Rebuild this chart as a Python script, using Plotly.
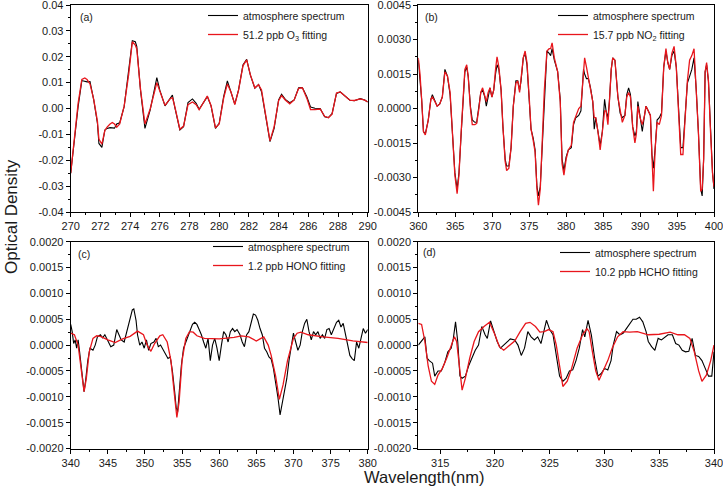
import plotly.graph_objects as go

# ---------------- Panel (a): O3 ----------------
wl_a = [270.0, 270.3, 270.5, 270.75, 270.95, 271.1, 271.3, 271.55, 271.8, 271.9, 272.1, 272.3, 272.45, 272.65,
        272.8, 272.95, 273.1, 273.3, 273.6, 273.9, 274.15, 274.35, 274.45, 274.7, 275.0, 275.35, 275.8, 276.0,
        276.35, 276.7, 276.85, 277.0, 277.35, 277.6, 277.9, 278.2, 278.45, 278.65, 278.95, 279.2, 279.45, 279.75,
        280.0, 280.3, 280.55, 280.8, 281.05, 281.3, 281.6, 281.85, 282.1, 282.4, 282.65, 282.85, 283.1, 283.42,
        283.7, 284.0, 284.2, 284.45, 284.75, 285.05, 285.35, 285.6, 285.9, 286.15, 286.45, 286.8, 287.1, 287.35,
        287.6, 287.9, 288.15, 288.45, 288.8, 289.1, 289.5, 289.8, 290.0]
atm_a = [-0.025, -0.0096, 0.0007, 0.0108, 0.0104, 0.0103, 0.0104, 0.0033, -0.0057, -0.0135, -0.0150, -0.0083,
         -0.0077, -0.0074, -0.0075, -0.0076, -0.0060, -0.0055, 0.0007, 0.0136, 0.0262, 0.0258, 0.0240, 0.0071,
         -0.0077, -0.0006, 0.0119, 0.0071, 0.0010, 0.0039, 0.0052, 0.0007, -0.0083, -0.0070, 0.0023, 0.0037,
         0.0020, -0.0003, 0.0026, 0.0046, 0.0010, -0.0077, -0.0057, 0.0046, 0.0107, 0.0065, 0.0017, 0.0071,
         0.0168, 0.0190, 0.0129, 0.0078, 0.0093, 0.0065, -0.0019, -0.0128, -0.0077, 0.0033, 0.0055, 0.0035,
         0.0022, 0.0033, 0.0080, 0.0081, 0.0046, 0.0006, 0.0001, 0.0000, -0.0032, -0.0035, -0.0020, 0.0058,
         0.0064, 0.0048, 0.0032, 0.0030, 0.0038, 0.0033, 0.0025]
fit_a = [-0.025, -0.009, 0.002, 0.0112, 0.0118, 0.0112, 0.0095, 0.0035, -0.005, -0.0118, -0.0138, -0.0085,
         -0.0072, -0.006, -0.0054, -0.006, -0.0072, -0.0060, 0.0009, 0.0130, 0.0258, 0.0245, 0.0230, 0.0075,
         -0.0060, -0.0002, 0.0100, 0.0068, 0.0012, 0.0038, 0.0042, 0.0010, -0.0080, -0.0068, 0.0015, 0.0025,
         0.0015, -0.0005, 0.0025, 0.0048, 0.0012, -0.0075, -0.0060, 0.0040, 0.0095, 0.0063, 0.0015, 0.0070,
         0.0165, 0.0188, 0.0130, 0.0080, 0.0092, 0.0072, -0.0015, -0.0125, -0.0070, 0.0030, 0.0050, 0.0033,
         0.0018, 0.0033, 0.0078, 0.0080, 0.0040, -0.0004, -0.0004, -0.0002, -0.0030, -0.0036, -0.0022, 0.0060,
         0.0064, 0.0050, 0.0032, 0.0031, 0.0037, 0.0032, 0.0025]

# ---------------- Panel (b): NO2 ----------------
wl_b = [360.0, 360.23, 360.45, 360.7, 360.95, 361.35, 361.7, 361.9, 362.25, 362.55, 362.9, 363.25, 363.6, 363.95,
        364.3, 364.6, 364.95, 365.25, 365.5, 365.8, 366.1, 366.3, 366.55, 366.75, 367.05, 367.3, 367.65, 367.9,
        368.2, 368.45, 368.7, 369.0, 369.2, 369.45, 369.7, 369.95, 370.2, 370.45, 370.65, 370.9, 371.2, 371.45,
        371.75, 371.95, 372.25, 372.55, 372.85, 373.2, 373.45, 373.7, 373.9, 374.2, 374.45, 374.7, 375.0, 375.25,
        375.55, 375.8, 376.05, 376.25, 376.5, 376.8, 377.05, 377.4, 377.7, 377.9, 378.1, 378.4, 378.85, 379.2,
        379.45, 379.7, 380.0, 380.3, 380.7, 381.0, 381.3, 381.7, 382.0, 382.35, 382.5, 382.75, 383.0, 383.3,
        383.6, 383.8, 384.0, 384.3, 384.6, 384.9, 385.2, 385.4, 385.65, 385.85, 386.1, 386.3, 386.6, 387.0,
        387.3, 387.6, 387.95, 388.2, 388.45, 388.7, 389.0, 389.3, 389.5, 389.7, 390.0, 390.3, 390.6, 390.8,
        391.1, 391.4, 391.6, 391.8, 392.05, 392.3, 392.6, 392.9, 393.2, 393.5, 393.75, 394.0, 394.3, 394.6,
        394.9, 395.2, 395.5, 395.8, 396.15, 396.4, 396.7, 397.0, 397.3, 397.6, 397.9, 398.2, 398.4, 398.6,
        398.8, 399.0, 399.25, 399.5, 399.8, 400.0]
atm_b = [0.0021, 0.0013, 0.0004, -0.0010, -0.0011, -0.0005, 0.0004, 0.0006, 0.0003, 0.0001, 0.0002, 0.0005,
         0.0017, 0.0014, 0.0006, -0.0008, -0.0028, -0.0035, -0.0028, -0.0011, 0.0009, 0.0016, 0.0018, 0.0014,
         0.0001, -0.0005, -0.0006, -0.0006, 0.0001, 0.0007, 0.0008, 0.0005, 0.0001, 0.0006, 0.0009, 0.0005,
         0.0008, 0.0015, 0.0019, 0.0017, 0.0008, -0.0008, -0.0022, -0.0025, -0.0025, -0.0017, 0.0001, 0.0012,
         0.0012, 0.0008, 0.0012, 0.0022, 0.0024, 0.0019, 0.0005, -0.0009, -0.0013, -0.0018, -0.0034, -0.0038,
         -0.0034, -0.0014, 0.0008, 0.0025, 0.0024, 0.0023, 0.0026, 0.0021, 0.0016, 0.0004, -0.0022, -0.0027,
         -0.0021, -0.0018, -0.0017, -0.0007, -0.0004, -0.0003, -0.0001, 0.0017, 0.0015, 0.0013, 0.0013, 0.0009,
         0.0003, -0.0009, -0.0004, -0.0010, -0.0016, -0.0010, 0.0004, -0.0001, -0.0004, 0.0003, 0.0017, 0.0022,
         0.0021, 0.0005, -0.0002, -0.0004, -0.0003, 0.0006, 0.0009, 0.0006, -0.0008, -0.0012, -0.0010, 0.0003,
         -0.0004, -0.0010, -0.0003, 0.0001, -0.0001, -0.0003, -0.0020, -0.0026, -0.0017, -0.0005, -0.0004,
         -0.0002, 0.0018, 0.0025, 0.0020, 0.0017, 0.0023, 0.0025, 0.0018, -0.0002, -0.0017, -0.0017, -0.0002,
         0.0011, 0.0014, 0.0017, 0.0022, 0.0008, -0.0011, -0.0035, -0.0038, -0.0022, 0.0016, 0.0019, 0.0012,
         -0.0008, -0.0028, -0.0035]
fit_b = [0.0022, 0.0015, 0.0004, -0.0010, -0.00115, -0.0005, 0.0004, 0.0005, 0.0003, 0.0001, 0.0002, 0.0005,
         0.0016, 0.0014, 0.0007, -0.0008, -0.0029, -0.0037, -0.0029, -0.0010, 0.0010, 0.0017, 0.0019, 0.0014,
         0.0000, -0.0007, -0.0007, -0.00065, 0.0000, 0.0007, 0.0009, 0.0005, 0.0003, 0.0007, 0.0009, 0.0005,
         0.0008, 0.0017, 0.00225, 0.0018, 0.0008, -0.0008, -0.0023, -0.0027, -0.0026, -0.0017, 0.0001, 0.0011,
         0.0012, 0.0007, 0.0012, 0.0022, 0.0025, 0.0020, 0.0005, -0.0009, -0.0014, -0.0019, -0.0035, -0.0042,
         -0.0035, -0.0014, 0.0008, 0.0025, 0.0026, 0.0026, 0.00285, 0.0022, 0.0016, 0.0003, -0.0024, -0.0029,
         -0.0022, -0.0018, -0.0016, -0.0006, -0.0003, 0.0000, 0.0001, 0.0019, 0.0022, 0.0018, 0.0014, 0.0009,
         0.0003, -0.0004, -0.0004, -0.0010, -0.0018, -0.0010, -0.0001, -0.0001, -0.0007, 0.0003, 0.0017, 0.0022,
         0.0021, 0.0005, -0.0001, -0.0006, -0.0003, 0.0005, 0.0007, 0.0005, -0.0008, -0.0015, -0.0011, 0.0001,
         -0.0004, -0.0007, -0.0003, 0.0001, -0.0001, -0.0003, -0.0020, -0.0036, -0.0017, -0.0006, -0.0007,
         -0.0003, 0.0018, 0.0026, 0.0020, 0.0017, 0.0024, 0.0027, 0.0018, -0.0002, -0.0020, -0.0020, -0.0002,
         0.0012, 0.0021, 0.0023, 0.0026, 0.0008, -0.0011, -0.0036, -0.0035, -0.0022, 0.0016, 0.0020, 0.0012,
         -0.0008, -0.0028, -0.0034]

# ---------------- Panel (c): HONO ----------------
wl_c_atm = [340.0, 340.2, 340.4, 340.6, 340.8, 341.0, 341.2, 341.5, 341.8, 342.0, 342.3, 342.6, 343.0, 343.3,
            343.6, 344.0, 344.3, 344.6, 345.0, 345.4, 345.8, 346.2, 346.5, 346.8, 347.2, 347.5, 347.8, 348.0,
            348.3, 348.5, 348.8, 349.0, 349.3, 349.6, 349.9, 350.2, 350.5, 350.8, 351.2, 351.5, 351.8, 352.1,
            352.5, 352.8, 353.1, 353.4, 353.7, 354.0, 354.2, 354.4, 354.6, 354.9, 355.2, 355.5, 355.8, 356.1,
            356.4, 356.7, 357.0, 357.3, 357.6, 357.9, 358.2, 358.5, 358.8, 359.1, 359.4, 359.7, 360.0, 360.3,
            360.6, 360.9, 361.2, 361.5, 361.8, 362.1, 362.4, 362.8, 363.1, 363.4, 363.7, 364.0, 364.3, 364.6,
            364.9, 365.2, 365.5, 365.8, 366.1, 366.4, 366.7, 367.0, 367.3, 367.6, 367.9, 368.2, 368.5, 368.8,
            369.1, 369.4, 369.7, 370.0, 370.3, 370.6, 370.9, 371.2, 371.5, 371.8, 372.1, 372.4, 372.7, 373.0,
            373.3, 373.6, 373.9, 374.2, 374.5, 374.8, 375.1, 375.4, 375.8, 376.1, 376.4, 376.7, 377.0, 377.3,
            377.6, 377.9, 378.2, 378.5, 378.8, 379.1, 379.4, 379.7, 380.0]
atm_c = [0.0004, 0.00026, 0.00003, 0.0001, -0.00006, 0.0001, -0.00013, -0.00058, -0.0009, -0.0007, -0.0003,
         -0.00006, -0.0001, 0.0, 0.00016, 0.0002, 0.00014, 0.0002, 0.00008, -0.00003, 0.0, 0.0003, 0.0002,
         0.0001, 0.00006, 0.00022, 0.0004, 0.0005, 0.00068, 0.0007, 0.00048, 0.0002, 0.0, 0.00006, -0.00006,
         0.0001, -0.0001, 0.00003, 0.00006, 0.00013, -0.00003, 0.0, -0.0001, -0.0002, -0.00026, -0.00023,
         -0.0005, -0.0009, -0.0012, -0.0013, -0.0009, -0.0004, -0.00006, 0.00006, 0.0002, 0.0003, 0.0004,
         0.00044, 0.0004, 0.0003, 0.0002, 0.00006, -0.00006, 0.00013, -0.0003, 0.0, 0.00013, -0.00006, -0.0003,
         0.0, 0.00026, 0.0002, 0.00006, 0.00026, 0.00032, 0.00026, 0.0003, 0.0002, 0.00006, -0.00003, 0.0002,
         0.00026, 0.00045, 0.0006, 0.00058, 0.00048, 0.00032, 0.0002, -0.00006, -0.00013, -0.00023, -0.00027,
         -0.00045, -0.0007, -0.001, -0.00135, -0.0011, -0.0009, -0.00065, -0.0003, -0.00006, 0.00023, 0.00006,
         -0.0001, 0.0, 0.00026, 0.00042, 0.0005, 0.00026, 0.0001, 0.00026, 0.0002, 0.00026, 0.00013, 0.0002,
         0.00013, 0.0003, 0.00032, 0.0002, 0.00032, 0.00044, 0.00048, 0.00035, 0.00042, 0.0002, 0.0, -0.0002,
         -0.00026, -0.0003, 0.00006, -0.00006, 0.00013, 0.00032, 0.00023, 0.0003]
wl_c_fit = [340.0, 340.5, 341.0, 341.3, 341.6, 341.8, 342.1, 342.5, 343.0, 343.5, 344.0, 345.0, 346.0, 347.0,
            348.0, 349.0, 349.8, 350.3, 350.8, 351.3, 352.0, 352.4, 353.0, 353.5, 354.0, 354.3, 354.6, 355.0,
            355.5, 356.0, 356.5, 357.0, 358.0, 360.0, 362.0, 363.0, 364.0, 365.0, 365.5, 366.0, 366.6, 367.0,
            367.6, 368.1, 368.6, 369.2, 370.0, 370.5, 371.0, 372.0, 374.0, 376.0, 378.0, 380.0]
fit_c = [0.00023, 0.0002, 0.0, -0.0003, -0.0007, -0.0009, -0.00065, -0.00013, 0.00013, 0.00018, 0.00017,
         0.0001, 0.00005, 0.00012, 0.00017, 0.00027, 0.0002, 0.0, -0.00012, 0.00003, 0.00018, 0.0002, 0.00006,
         -0.0003, -0.001, -0.0014, -0.0011, -0.0003, 0.00013, 0.00026, 0.00025, 0.00018, 0.00013, 0.00012,
         0.00015, 0.00018, 0.00016, 0.00008, 0.00012, 0.00016, 0.0, -0.0002, -0.0006, -0.00105, -0.00077,
         -0.0003, 0.00013, 0.00023, 0.00025, 0.0002, 0.00016, 0.00013, 0.00008, 0.00005]

# ---------------- Panel (d): HCHO ----------------
wl_d_atm = [313.0, 313.3, 313.6, 313.8, 314.0, 314.3, 314.5, 314.8, 315.1, 315.4, 315.7, 316.0, 316.2, 316.4,
            316.6, 316.8, 317.0, 317.3, 317.6, 317.9, 318.2, 318.5, 318.8, 319.1, 319.3, 319.6, 319.9, 320.2,
            320.5, 320.8, 321.1, 321.4, 321.8, 322.1, 322.4, 322.7, 323.0, 323.3, 323.6, 323.9, 324.2, 324.5,
            324.7, 325.0, 325.3, 325.6, 325.9, 326.2, 326.5, 326.8, 327.1, 327.4, 327.7, 328.0, 328.2, 328.5,
            328.8, 329.1, 329.4, 329.7, 330.0, 330.3, 330.6, 330.8, 331.1, 331.4, 331.7, 332.0, 332.3, 332.6,
            332.9, 333.2, 333.5, 333.8, 334.0, 334.3, 334.6, 334.9, 335.2, 335.5, 335.8, 336.2, 336.5, 336.8,
            337.1, 337.4, 337.7, 338.0, 338.3, 338.6, 338.9, 339.2, 339.5, 339.8, 340.0]
atm_d = [0.0, 0.00007, 0.00016, -0.00025, -0.0003, -0.00035, -0.0006, -0.0005, -0.0005, -0.00035, -0.00013,
         -0.00006, 0.00013, 0.00045, 0.00007, -0.0006, -0.00064, -0.0006, -0.0004, -0.00025, -0.0001, 0.0,
         0.00036, 0.0002, 0.00013, 0.00047, 0.00026, 0.00007, -0.00006, 0.0, 0.00007, 0.00012, 0.0001, 0.0,
         -0.0002, -0.00006, 0.00026, 0.00016, 0.0001, 0.00016, 0.00003, 0.00032, 0.00048, 0.0003, 0.0002,
         -0.0002, -0.0006, -0.0007, -0.00064, -0.0005, -0.00048, -0.0003, -0.00006, 0.0003, 0.00016, 0.00048,
         0.0002, -0.00025, -0.0006, -0.00055, -0.00045, -0.00048, -0.0003, 0.0, 0.00026, 0.0002, 0.00023,
         0.00032, 0.0004, 0.0005, 0.0005, 0.00054, 0.00045, 0.00026, 0.00007, -0.00003, -0.0001, 0.00013,
         0.0001, 0.00016, 0.0002, 0.0002, 0.00003, 0.0, -0.0001, -0.00013, -0.00012, 0.00013, -0.0002,
         -0.00022, -0.0003, -0.00045, -0.0006, -0.0006, -0.00013]
wl_d_fit = [313.0, 313.3, 313.6, 313.9, 314.2, 314.5, 314.8, 315.2, 315.6, 316.0, 316.3, 316.5, 316.8, 317.0,
            317.3, 317.7, 318.1, 318.5, 319.0, 319.5, 320.0, 320.4, 320.8, 321.3, 321.8, 322.3, 322.8, 323.2,
            323.7, 324.1, 324.5, 324.9, 325.3, 325.6, 325.9, 326.2, 326.6, 327.0, 327.5, 328.0, 328.4, 328.6,
            328.9, 329.2, 329.5, 329.9, 330.3, 330.7, 331.2, 331.7, 332.3, 333.0, 334.0, 335.0, 336.0, 336.7,
            337.3, 337.8, 338.2, 338.6, 338.9, 339.3, 339.7, 340.0]
fit_d = [0.00042, 0.0004, 0.00007, -0.0004, -0.0007, -0.00076, -0.00058, -0.00045, -0.00025, 0.0, 0.00016,
         0.00007, -0.0005, -0.00087, -0.00064, -0.00025, 0.00007, 0.00026, 0.00036, 0.00044, 0.0002, -0.00003,
         -0.0001, 0.0, 0.00008, 0.00026, 0.00042, 0.00044, 0.00036, 0.00025, 0.00026, 0.0003, 0.00026, 0.0,
         -0.00045, -0.0008, -0.0007, -0.00045, -0.00006, 0.0002, 0.00032, 0.00026, -0.00013, -0.0005, -0.00068,
         -0.0005, -0.0003, -0.00006, 0.00016, 0.00026, 0.00025, 0.00026, 0.0002, 0.00021, 0.00025, 0.0002,
         0.0002, 0.00013, -0.00013, -0.0005, -0.0007, -0.00058, -0.0003, 0.0]

# ---------------- Legend names, tick labels ----------------
atm_name = "atmosphere spectrum"
fit_names = ["51.2 ppb O<sub>3</sub> fitting", "15.7 ppb NO<sub>2</sub> fitting",
             "1.2 ppb HONO fitting", "10.2 ppb HCHO fitting"]
panel_labels = ["(a)", "(b)", "(c)", "(d)"]

ytick_a_vals = [-0.04, -0.03, -0.02, -0.01, 0.0, 0.01, 0.02, 0.03, 0.04]
ytick_a_text = ["-0.04", "-0.03", "-0.02", "-0.01", "0.00", "0.01", "0.02", "0.03", "0.04"]
ytick_b_vals = [-0.0045, -0.003, -0.0015, 0.0, 0.0015, 0.003, 0.0045]
ytick_b_text = ["-0.0045", "-0.0030", "-0.0015", "0.0000", "0.0015", "0.0030", "0.0045"]
ytick_cd_vals = [-0.002, -0.0015, -0.001, -0.0005, 0.0, 0.0005, 0.001, 0.0015, 0.002]
ytick_cd_text = ["-0.0020", "-0.0015", "-0.0010", "-0.0005", "0.0000", "0.0005", "0.0010", "0.0015", "0.0020"]

BLACK = "#000000"
RED = "#e8161c"
FONT = "Liberation Sans, Arial, sans-serif"

fig = go.Figure()

panels = [
    ("x", "y", "legend", wl_a, atm_a, wl_a, fit_a),
    ("x2", "y2", "legend2", wl_b, atm_b, wl_b, fit_b),
    ("x3", "y3", "legend3", wl_c_atm, atm_c, wl_c_fit, fit_c),
    ("x4", "y4", "legend4", wl_d_atm, atm_d, wl_d_fit, fit_d),
]
for i, (xa, ya, lg, xw, yw, xf, yf) in enumerate(panels):
    fig.add_trace(go.Scatter(x=xw, y=yw, mode="lines", name=atm_name, xaxis=xa, yaxis=ya, legend=lg,
                             line=dict(color=BLACK, width=1.1)))
    fig.add_trace(go.Scatter(x=xf, y=yf, mode="lines", name=fit_names[i], xaxis=xa, yaxis=ya, legend=lg,
                             line=dict(color=RED, width=1.3)))

W, H = 723, 496
def px(x):
    return x / W
def py(y):
    return 1 - y / H

dom_x_left = [px(70.7), px(367.7)]
dom_x_right = [px(418.3), px(714.0)]
dom_y_top = [py(212.0), py(5.0)]
dom_y_bot = [py(448.5), py(241.7)]

tickfont = dict(family=FONT, size=11, color="#1a1a1a")
common = dict(showline=True, mirror=True, linecolor="black", linewidth=1, ticks="outside", ticklen=4,
              tickwidth=1, tickcolor="black", showgrid=False, zeroline=False, tickfont=tickfont,
              automargin=False, ticklabeloverflow="allow")

def xax(dom, rng, dtick, minor, anchor):
    return dict(domain=dom, range=rng, tickmode="linear", tick0=rng[0], dtick=dtick,
                minor=dict(ticks="outside", ticklen=2, tickcolor="black", dtick=minor, showgrid=False),
                anchor=anchor, **common)

def yax(dom, rng, vals, text, minor, anchor):
    return dict(domain=dom, range=rng, tickmode="array", tickvals=vals, ticktext=text,
                minor=dict(ticks="outside", ticklen=2, tickcolor="black", tickmode="linear",
                           tick0=0, dtick=minor, showgrid=False),
                anchor=anchor, **common)

fig.update_layout(
    width=W, height=H,
    margin=dict(l=0, r=0, t=0, b=0, autoexpand=False),
    paper_bgcolor="white", plot_bgcolor="white",
    font=dict(family=FONT, color="#1a1a1a"),
    xaxis=xax(dom_x_left, [270, 290.0001], 2, 1, "y"),
    yaxis=yax(dom_y_top, [-0.04, 0.04], ytick_a_vals, ytick_a_text, 0.005, "x"),
    xaxis2=xax(dom_x_right, [360, 400.0001], 5, 2.5, "y2"),
    yaxis2=yax(dom_y_top, [-0.0045001, 0.0045001], ytick_b_vals, ytick_b_text, 0.00075, "x2"),
    xaxis3=xax(dom_x_left, [340, 380.0001], 5, 2.5, "y3"),
    yaxis3=yax(dom_y_bot, [-0.002, 0.002], ytick_cd_vals, ytick_cd_text, 0.00025, "x3"),
    xaxis4=dict(domain=dom_x_right, range=[313, 340.0001], tickmode="linear", tick0=315, dtick=5,
                minor=dict(ticks="outside", ticklen=2, tickcolor="black", dtick=2.5, tick0=315, showgrid=False),
                anchor="y4", **common),
    yaxis4=yax(dom_y_bot, [-0.002, 0.002], ytick_cd_vals, ytick_cd_text, 0.00025, "x4"),
    showlegend=True,
)

leg_common = dict(bgcolor="rgba(0,0,0,0)", borderwidth=0, font=dict(family=FONT, size=10.5, color="#1a1a1a"),
                  xanchor="left", yanchor="top", tracegroupgap=0, itemwidth=30)
fig.update_layout(
    legend=dict(x=px(203), y=py(1), **leg_common),
    legend2=dict(x=px(553), y=py(1), **leg_common),
    legend3=dict(x=px(208), y=py(232), **leg_common),
    legend4=dict(x=px(555), y=py(238), **leg_common),
)

# panel letters
label_pos = [(86, 17), (431, 17), (84, 254), (429, 252)]
for lab, (lx, ly) in zip(panel_labels, label_pos):
    fig.add_annotation(text=lab, x=px(lx), y=py(ly), xref="paper", yref="paper", showarrow=False,
                       xanchor="center", yanchor="middle", font=dict(family=FONT, size=10.5, color="#1a1a1a"))

# shared axis titles
fig.add_annotation(text="Optical Density", x=px(11), y=py(217), xref="paper", yref="paper", showarrow=False,
                   textangle=-90, xanchor="center", yanchor="middle",
                   font=dict(family=FONT, size=17, color="#1a1a1a"))
fig.add_annotation(text="Wavelength(nm)", x=px(424), y=py(477), xref="paper", yref="paper", showarrow=False,
                   xanchor="center", yanchor="middle", font=dict(family=FONT, size=16.5, color="#1a1a1a"),
                   borderpad=0)

fig.write_html("out.html", config={"displayModeBar": False},
               post_script="document.body.style.margin='0';document.body.style.overflow='hidden';")
